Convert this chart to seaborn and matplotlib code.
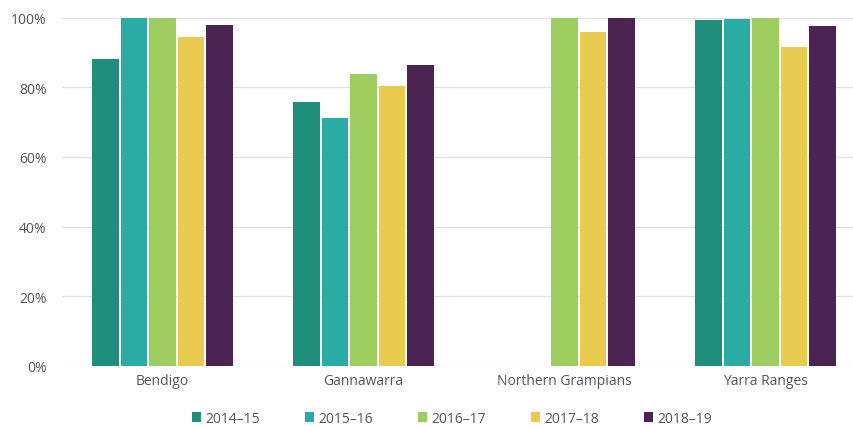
import numpy as np
import pandas as pd
import matplotlib
matplotlib.use("Agg")
import matplotlib.pyplot as plt
from matplotlib.patches import Patch
import seaborn as sns

councils = ["Bendigo", "Gannawarra", "Northern Grampians", "Yarra Ranges"]
years = ["2014–15", "2015–16", "2016–17", "2017–18", "2018–19"]

# Share (%) per council for each year; NaN where no result was reported
v_2014_15 = [88.1, 75.8, np.nan, 99.4]
v_2015_16 = [100.0, 71.1, np.nan, 99.5]
v_2016_17 = [100.0, 83.8, 100.0, 100.0]
v_2017_18 = [94.4, 80.4, 95.9, 91.4]
v_2018_19 = [97.9, 86.5, 100.0, 97.6]

year_colors = ["#1f8f7b", "#2aaba3", "#9dcd5f", "#e9cc4f", "#4b2453"]

series = [v_2014_15, v_2015_16, v_2016_17, v_2017_18, v_2018_19]
df = pd.DataFrame(
    [(c, y, vals[i]) for y, vals in zip(years, series) for i, c in enumerate(councils)],
    columns=["council", "year", "value"],
)

sns.set_theme(style="white")
plt.rcParams["font.family"] = ["Open Sans", "DejaVu Sans"]

fig = plt.figure(figsize=(8.54, 4.31), dpi=100)
ax = fig.add_axes([62 / 854, 64 / 431, 792 / 854, 348.5 / 431])

sns.barplot(
    data=df, x="council", y="value", hue="year", hue_order=years,
    order=councils, palette=year_colors, width=0.71, gap=0.07,
    edgecolor="none", linewidth=0, saturation=1, errorbar=None,
    legend=False, ax=ax,
)

ax.set_ylim(0, 100)
ax.set_xlim(-0.5, -0.5 + 792 / 201)
ax.set_yticks([0, 20, 40, 60, 80, 100])
ax.set_yticklabels([f"{t}%" for t in range(0, 101, 20)])
ax.yaxis.grid(True, color="#e2e2e2", linewidth=1.0)
ax.set_axisbelow(True)
for s in ax.spines.values():
    s.set_visible(False)
ax.set_xlabel("")
ax.set_ylabel("")
ax.tick_params(axis="both", length=0, labelsize=10, colors="#555555")
ax.tick_params(axis="y", pad=11)
ax.tick_params(axis="x", pad=5)

handles = [Patch(facecolor=c, edgecolor="none") for c in year_colors]
fig.legend(
    handles, years, loc="center", bbox_to_anchor=(452 / 854, 0.027), ncol=5,
    frameon=False, fontsize=10, labelcolor="#555555",
    handlelength=0.65, handleheight=0.65, handletextpad=0.3,
    columnspacing=3.25,
)

fig.savefig("out.png", dpi=100)
